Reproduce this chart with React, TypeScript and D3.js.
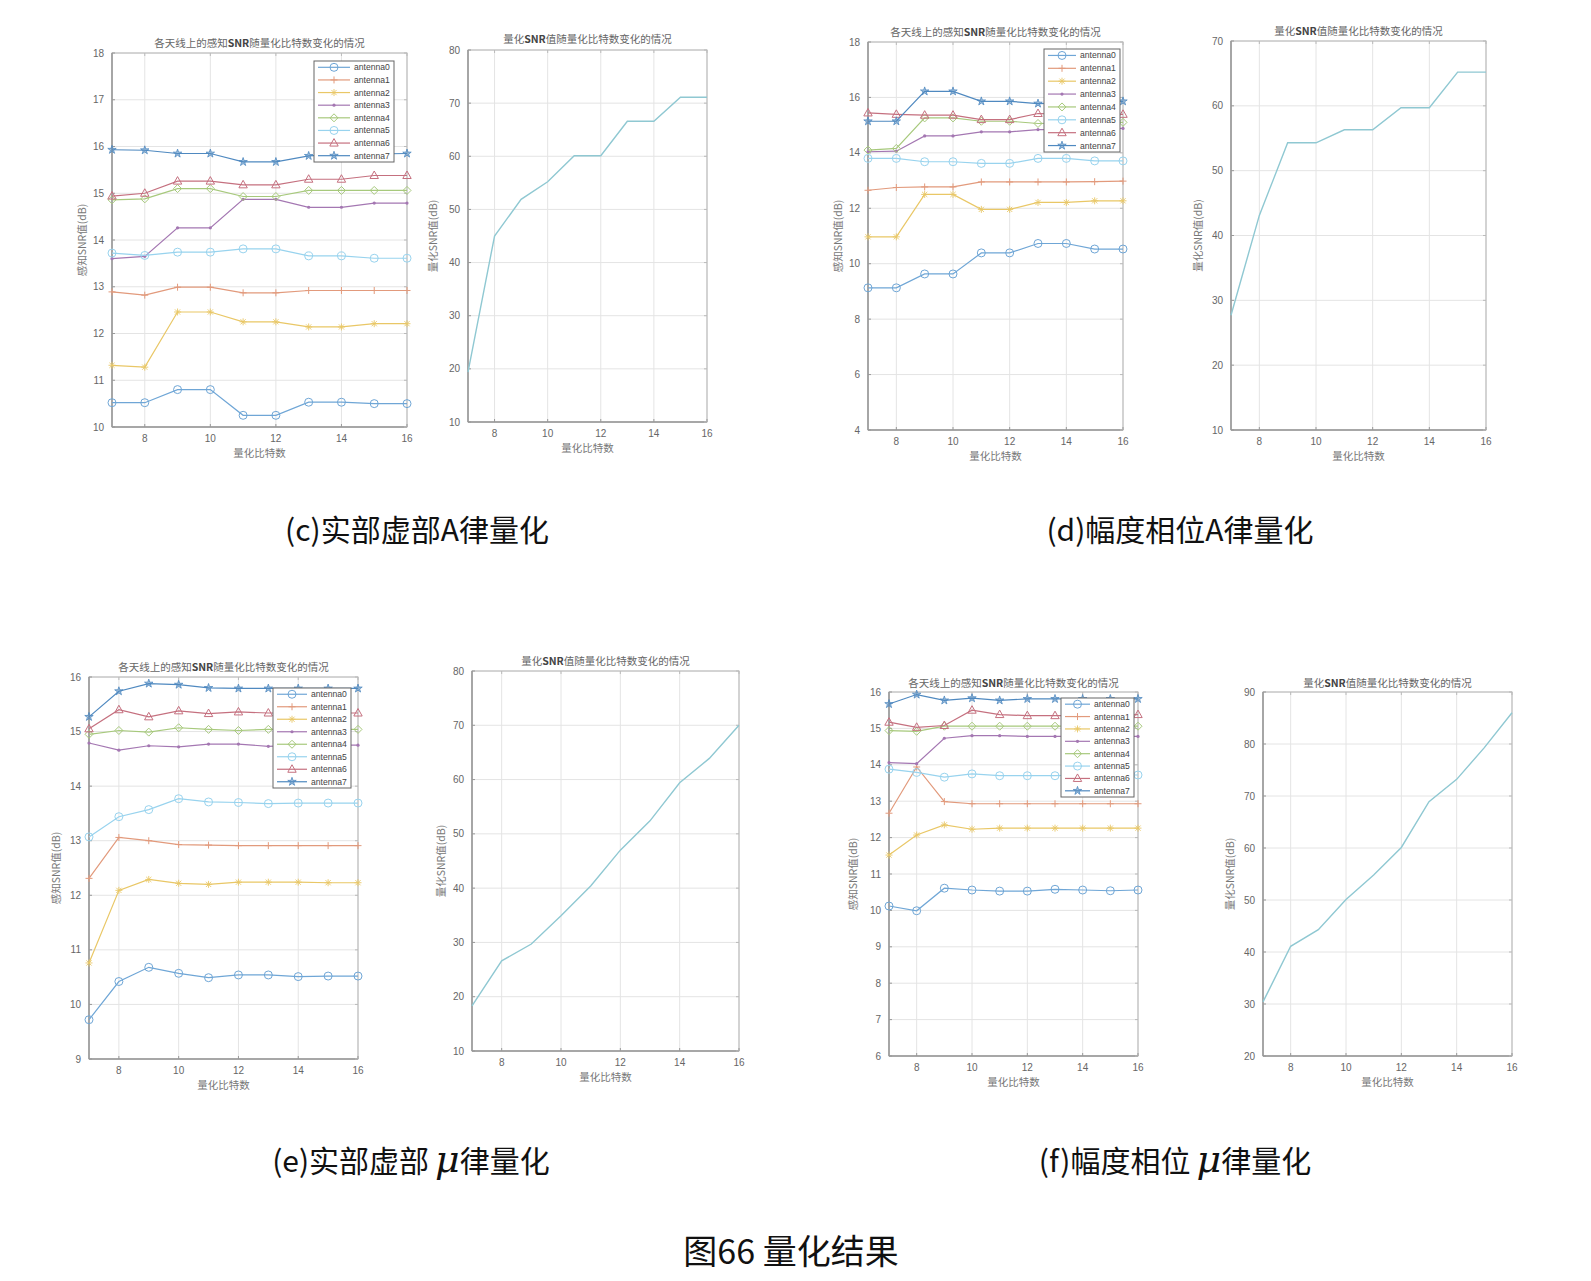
import * as d3 from 'd3'

const bits = [7, 8, 9, 10, 11, 12, 13, 14, 15, 16]
const antennaNames = ['antenna0', 'antenna1', 'antenna2', 'antenna3', 'antenna4', 'antenna5', 'antenna6', 'antenna7']
const antennaColors = ['#6fa6d6', '#e29a7c', '#e9c766', '#a477b2', '#a7c97c', '#98d3ee', '#c5707f', '#4f89c0']
const markerKinds = ['circle', 'plus', 'asterisk', 'dot', 'diamond', 'circle', 'triangle', 'star']
const singleColor = '#8fc8d2'

// (c) real/imag, A-law
const cAntenna = [
  [10.52, 10.52, 10.8, 10.8, 10.25, 10.25, 10.53, 10.53, 10.5, 10.5],
  [12.89, 12.82, 12.99, 12.99, 12.87, 12.87, 12.92, 12.92, 12.92, 12.92],
  [11.32, 11.28, 12.46, 12.46, 12.25, 12.25, 12.14, 12.14, 12.21, 12.21],
  [13.6, 13.65, 14.26, 14.26, 14.87, 14.87, 14.7, 14.7, 14.79, 14.79],
  [14.86, 14.88, 15.1, 15.1, 14.93, 14.93, 15.06, 15.06, 15.06, 15.06],
  [13.72, 13.67, 13.74, 13.74, 13.81, 13.81, 13.66, 13.66, 13.61, 13.61],
  [14.94, 15.0, 15.26, 15.26, 15.18, 15.18, 15.3, 15.3, 15.38, 15.38],
  [15.93, 15.92, 15.85, 15.85, 15.67, 15.67, 15.8, 15.83, 15.84, 15.85],
]
const cQuant = [19.4, 45, 51.9, 55.2, 60.1, 60.1, 66.6, 66.6, 71.1, 71.1]

// (d) amplitude/phase, A-law
const dAntenna = [
  [9.13, 9.13, 9.63, 9.63, 10.39, 10.39, 10.73, 10.73, 10.53, 10.53],
  [12.65, 12.75, 12.77, 12.77, 12.95, 12.95, 12.95, 12.95, 12.96, 12.98],
  [10.97, 10.97, 12.5, 12.5, 11.96, 11.96, 12.21, 12.21, 12.27, 12.27],
  [14.04, 14.06, 14.61, 14.61, 14.76, 14.76, 14.84, 14.84, 14.86, 14.88],
  [14.1, 14.16, 15.26, 15.26, 15.14, 15.14, 15.06, 15.08, 15.1, 15.1],
  [13.8, 13.8, 13.68, 13.68, 13.62, 13.62, 13.8, 13.8, 13.71, 13.71],
  [15.44, 15.39, 15.36, 15.36, 15.2, 15.2, 15.42, 15.4, 15.39, 15.39],
  [15.14, 15.14, 16.22, 16.22, 15.86, 15.86, 15.78, 15.8, 15.84, 15.86],
]
const dQuant = [27.7, 43.1, 54.3, 54.3, 56.3, 56.3, 59.7, 59.7, 65.2, 65.2]

// (e) real/imag, mu-law
const eAntenna = [
  [9.72, 10.42, 10.68, 10.57, 10.49, 10.54, 10.54, 10.51, 10.52, 10.52],
  [12.31, 13.06, 13.0, 12.93, 12.92, 12.91, 12.91, 12.91, 12.91, 12.91],
  [10.76, 12.09, 12.29, 12.22, 12.2, 12.24, 12.24, 12.24, 12.23, 12.23],
  [14.79, 14.66, 14.74, 14.72, 14.77, 14.77, 14.73, 14.75, 14.75, 14.75],
  [14.95, 15.02, 14.99, 15.07, 15.04, 15.02, 15.04, 15.04, 15.04, 15.04],
  [13.07, 13.44, 13.57, 13.77, 13.71, 13.7, 13.68, 13.69, 13.69, 13.69],
  [15.05, 15.4, 15.27, 15.38, 15.33, 15.36, 15.34, 15.34, 15.34, 15.34],
  [15.27, 15.74, 15.88, 15.86, 15.8, 15.79, 15.79, 15.79, 15.79, 15.79],
]
const eQuant = [18.3, 26.6, 29.7, 34.9, 40.4, 47.0, 52.4, 59.4, 63.9, 70.0]

// (f) amplitude/phase, mu-law
const fAntenna = [
  [10.12, 9.99, 10.61, 10.56, 10.53, 10.53, 10.58, 10.56, 10.54, 10.56],
  [12.67, 13.94, 12.99, 12.93, 12.93, 12.93, 12.93, 12.93, 12.93, 12.93],
  [11.52, 12.07, 12.35, 12.23, 12.26, 12.26, 12.26, 12.26, 12.26, 12.26],
  [14.06, 14.03, 14.73, 14.8, 14.8, 14.78, 14.78, 14.78, 14.78, 14.78],
  [14.94, 14.92, 15.06, 15.06, 15.06, 15.06, 15.06, 15.06, 15.06, 15.06],
  [13.88, 13.79, 13.66, 13.75, 13.7, 13.7, 13.7, 13.72, 13.72, 13.72],
  [15.17, 15.03, 15.08, 15.5, 15.38, 15.35, 15.35, 15.35, 15.35, 15.38],
  [15.67, 15.93, 15.77, 15.83, 15.77, 15.81, 15.81, 15.81, 15.81, 15.81],
]
const fQuant = [30.4, 41.1, 44.3, 50.1, 54.8, 60.1, 68.9, 73.2, 79.3, 86.0]

const xTicks = [8, 10, 12, 14, 16]
const tickFont = '"Liberation Sans", Arial, sans-serif'
const cjkFont = '"Noto Sans CJK SC", sans-serif'

const Marker = ({ kind, cx, cy, color }) => {
  const s = 3.5
  if (kind === 'circle') return <circle cx={cx} cy={cy} r={4} fill="none" stroke={color} strokeWidth={1} />
  if (kind === 'plus')
    return <path d={`M${cx - s},${cy}H${cx + s}M${cx},${cy - s}V${cy + s}`} stroke={color} strokeWidth={1} />
  if (kind === 'asterisk') {
    const a = 2.6
    return <path d={`M${cx - s},${cy}H${cx + s}M${cx},${cy - s}V${cy + s}M${cx - a},${cy - a}L${cx + a},${cy + a}M${cx - a},${cy + a}L${cx + a},${cy - a}`} stroke={color} strokeWidth={0.9} />
  }
  if (kind === 'dot') return <circle cx={cx} cy={cy} r={1.6} fill={color} />
  if (kind === 'diamond')
    return <path d={`M${cx},${cy - 4}L${cx + 4},${cy}L${cx},${cy + 4}L${cx - 4},${cy}Z`} fill="none" stroke={color} strokeWidth={1} />
  if (kind === 'triangle')
    return <path d={`M${cx},${cy - 4.5}L${cx + 4.2},${cy + 3}L${cx - 4.2},${cy + 3}Z`} fill="none" stroke={color} strokeWidth={1} />
  const star = d3.symbol().type(d3.symbolStar).size(22)()
  return <path d={star} transform={`translate(${cx},${cy})`} fill={color} fillOpacity={0.55} stroke={color} strokeWidth={0.8} />
}

const Title = ({ x, y, text }) => {
  const parts = text.split('SNR')
  return (
    <text x={x} y={y} textAnchor="middle" fontFamily={cjkFont} fontSize={10.5} fill="#666">
      {parts[0]}
      <tspan fontWeight="bold" fill="#444">SNR</tspan>
      {parts[1]}
    </text>
  )
}

const Axes = ({ box, x, y, yTicks, title, titleY, yLabel, labelX }) => (
  <g>
    {xTicks.map(t => (
      <line key={'gx' + t} x1={x(t)} x2={x(t)} y1={box.t} y2={box.b} stroke="#e4e4e4" strokeWidth={1} />
    ))}
    {yTicks.map(t => (
      <line key={'gy' + t} x1={box.l} x2={box.r} y1={y(t)} y2={y(t)} stroke="#e4e4e4" strokeWidth={1} />
    ))}
    <rect x={box.l} y={box.t} width={box.r - box.l} height={box.b - box.t} fill="none" stroke="#b5b5b5" strokeWidth={1} />
    <line x1={box.l} x2={box.l} y1={box.t} y2={box.b} stroke="#999" strokeWidth={1.6} />
    <line x1={box.l} x2={box.r} y1={box.b} y2={box.b} stroke="#999" strokeWidth={1.6} />
    {xTicks.map(t => (
      <g key={'tx' + t}>
        <line x1={x(t)} x2={x(t)} y1={box.b} y2={box.b - 3} stroke="#999" />
        <line x1={x(t)} x2={x(t)} y1={box.t} y2={box.t + 3} stroke="#bbb" />
        <text x={x(t)} y={box.b + 15} textAnchor="middle" fontFamily={tickFont} fontSize={10} fill="#666">{t}</text>
      </g>
    ))}
    {yTicks.map(t => (
      <g key={'ty' + t}>
        <line x1={box.l} x2={box.l + 3} y1={y(t)} y2={y(t)} stroke="#999" />
        <line x1={box.r} x2={box.r - 3} y1={y(t)} y2={y(t)} stroke="#bbb" />
        <text x={box.l - 8} y={y(t) + 3.5} textAnchor="end" fontFamily={tickFont} fontSize={10} fill="#666">{t}</text>
      </g>
    ))}
    <Title x={(box.l + box.r) / 2} y={titleY} text={title} />
    <text x={(box.l + box.r) / 2} y={box.b + 30} textAnchor="middle" fontFamily={cjkFont} fontSize={10.5} fill="#777">量化比特数</text>
    <text transform={`translate(${labelX},${(box.t + box.b) / 2}) rotate(-90)`} textAnchor="middle" fontFamily={cjkFont} fontSize={10.5} fill="#777">{yLabel}</text>
  </g>
)

const MultiPanel = ({ box, yDomain, yStep, series, legend, titleY, labelX }) => {
  const x = d3.scaleLinear().domain([7, 16]).range([box.l, box.r])
  const y = d3.scaleLinear().domain(yDomain).range([box.b, box.t])
  const yTicks = d3.range(yDomain[0], yDomain[1] + 0.001, yStep)
  const line = d3.line<number>().x((_, i) => x(bits[i])).y(d => y(d))
  const rowH = legend.h / 8
  const textX = legend.x + legend.w - 40
  return (
    <g>
      <Axes box={box} x={x} y={y} yTicks={yTicks} title="各天线上的感知SNR随量化比特数变化的情况" titleY={titleY} yLabel="感知SNR值(dB)" labelX={labelX} />
      {series.map((s, k) => (
        <g key={k}>
          <path d={line(s)} fill="none" stroke={antennaColors[k]} strokeWidth={1.2} />
          {s.map((v, i) => (
            <Marker key={i} kind={markerKinds[k]} cx={x(bits[i])} cy={y(v)} color={antennaColors[k]} />
          ))}
        </g>
      ))}
      <rect x={legend.x} y={legend.y} width={legend.w} height={legend.h} fill="#fff" stroke="#666" strokeWidth={1} />
      {antennaNames.map((n, k) => {
        const cy = legend.y + rowH * (k + 0.5)
        return (
          <g key={n}>
            <line x1={legend.x + 4} x2={textX - 4} y1={cy} y2={cy} stroke={antennaColors[k]} strokeWidth={1.2} />
            <Marker kind={markerKinds[k]} cx={(legend.x + textX) / 2} cy={cy} color={antennaColors[k]} />
            <text x={textX} y={cy + 3} fontFamily={tickFont} fontSize={8.6} fill="#444">{n}</text>
          </g>
        )
      })}
    </g>
  )
}

const SinglePanel = ({ box, yDomain, values, titleY, labelX }) => {
  const x = d3.scaleLinear().domain([7, 16]).range([box.l, box.r])
  const y = d3.scaleLinear().domain(yDomain).range([box.b, box.t])
  const yTicks = d3.range(yDomain[0], yDomain[1] + 0.001, 10)
  const line = d3.line<number>().x((_, i) => x(bits[i])).y(d => y(d))
  return (
    <g>
      <Axes box={box} x={x} y={y} yTicks={yTicks} title="量化SNR值随量化比特数变化的情况" titleY={titleY} yLabel="量化SNR值(dB)" labelX={labelX} />
      <path d={line(values)} fill="none" stroke={singleColor} strokeWidth={1.4} />
    </g>
  )
}

const Caption = ({ x, y, pre, post }) => (
  <text x={x} y={y} textAnchor="middle" fontFamily={cjkFont} fontSize={30} fill="#111">
    {pre}
    {post !== undefined && (
      <>
        <tspan fontFamily='"DejaVu Serif", serif' fontStyle="italic" fontSize={38} dx={6}>μ</tspan>
        <tspan>{post}</tspan>
      </>
    )}
  </text>
)

export default function App() {
  return (
    <svg width={1591} height={1281} style={{ position: 'fixed', left: 0, top: 0, background: '#fff' }}>
      <rect width={1591} height={1281} fill="#fff" />
      <MultiPanel box={{ l: 112, r: 407, t: 53, b: 427 }} yDomain={[10, 18]} yStep={1} series={cAntenna}
        legend={{ x: 314, y: 61, w: 80, h: 101 }} titleY={47} labelX={86} />
      <SinglePanel box={{ l: 468, r: 707, t: 50, b: 422 }} yDomain={[10, 80]} values={cQuant} titleY={43} labelX={437} />
      <MultiPanel box={{ l: 868, r: 1123, t: 42, b: 430 }} yDomain={[4, 18]} yStep={2} series={dAntenna}
        legend={{ x: 1044, y: 49, w: 76, h: 103 }} titleY={36} labelX={842} />
      <SinglePanel box={{ l: 1231, r: 1486, t: 41, b: 430 }} yDomain={[10, 70]} values={dQuant} titleY={35} labelX={1202} />
      <MultiPanel box={{ l: 89, r: 358, t: 677, b: 1059 }} yDomain={[9, 16]} yStep={1} series={eAntenna}
        legend={{ x: 273, y: 688, w: 78, h: 100 }} titleY={671} labelX={60} />
      <SinglePanel box={{ l: 472, r: 739, t: 671, b: 1051 }} yDomain={[10, 80]} values={eQuant} titleY={665} labelX={445} />
      <MultiPanel box={{ l: 889, r: 1138, t: 692, b: 1056 }} yDomain={[6, 16]} yStep={1} series={fAntenna}
        legend={{ x: 1061, y: 698, w: 73, h: 99 }} titleY={687} labelX={857} />
      <SinglePanel box={{ l: 1263, r: 1512, t: 692, b: 1056 }} yDomain={[20, 90]} values={fQuant} titleY={687} labelX={1234} />

      <Caption x={417} y={541} pre="(c)实部虚部A律量化" />
      <Caption x={1180} y={541} pre="(d)幅度相位A律量化" />
      <Caption x={411} y={1172} pre="(e)实部虚部" post="律量化" />
      <Caption x={1175} y={1172} pre="(f)幅度相位" post="律量化" />
      <text x={791} y={1264} textAnchor="middle" fontFamily={cjkFont} fontSize={34} fill="#111">图66  量化结果</text>
    </svg>
  )
}
